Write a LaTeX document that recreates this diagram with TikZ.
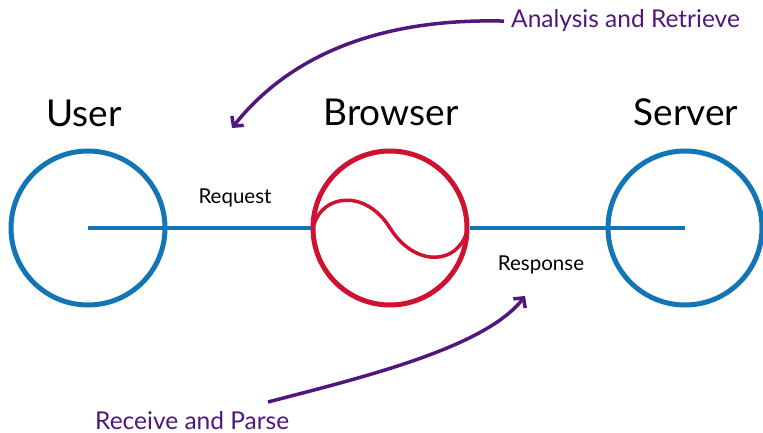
\documentclass[tikz,border=0pt]{standalone}
\usepackage{fontspec}
\setmainfont{Lato}
\usetikzlibrary{arrows.meta,positioning}

\definecolor{netblue}{RGB}{18,118,182}
\definecolor{netred}{RGB}{206,18,48}
\definecolor{netpurple}{RGB}{80,24,124}

\tikzset{
    endpoint/.style={circle, draw=#1, line width=5pt, minimum size=154pt, inner sep=0pt},
    bigname/.style={font=\fontsize{37}{40}\selectfont, anchor=base},
    wirename/.style={font=\fontsize{20.5}{22}\selectfont, anchor=base},
    note/.style={font=\fontsize{24.5}{26}\selectfont, text=netpurple, anchor=base west, inner sep=1pt},
    wire/.style={netblue, line width=3.5pt},
    flow/.style={netpurple, line width=3.5pt, -{Straight Barb[length=7pt,width=15pt,line width=3.5pt]}}
}

\begin{document}
\begin{tikzpicture}[x=1pt, y=-1pt]
        \useasboundingbox (0,0) rectangle (763,433);

        % the three ends
        \node[endpoint=netblue] (user) at (88,228) {};
        \node[endpoint=netred] (browser) at (390,228) {};
        \node[endpoint=netblue] (server) at (685,228) {};

        \node[bigname] (usertxt) at (84,127) {User};
        \node[bigname] (browsertxt) at (391,126) {Browser};
        \node[bigname] (servertxt) at (686,126) {Server};

        \draw[wire] (user.center) -- (browser.west);
        \draw[wire] (browser.east) -- (server.center);
        \node[wirename] (request) at (235,203) {Request};
        \node[wirename] (response) at (541,270) {Response};

        % wave inside the browser
        \draw[netred, line width=3.5pt] (314,225) .. controls (322,195) and (365,188) .. (390,228)
            .. controls (415,268) and (458,265) .. (467,231);

        % notes
        \node[note] (analysis) at (510,28) {Analysis and Retrieve};
        \node[note] (receive) at (94,429) {Receive and Parse};
        \coordinate (askto) at (232,128);
        \coordinate (parsefrom) at (268,402);
        \coordinate (parseto) at (525,296);

        \draw[flow] ([xshift=-6pt]analysis.west) .. controls (380,18) and (290,55) .. (askto);
        \draw[flow] (parsefrom) .. controls (360,378) and (485,348) .. (parseto);
    \end{tikzpicture}
\end{document}
